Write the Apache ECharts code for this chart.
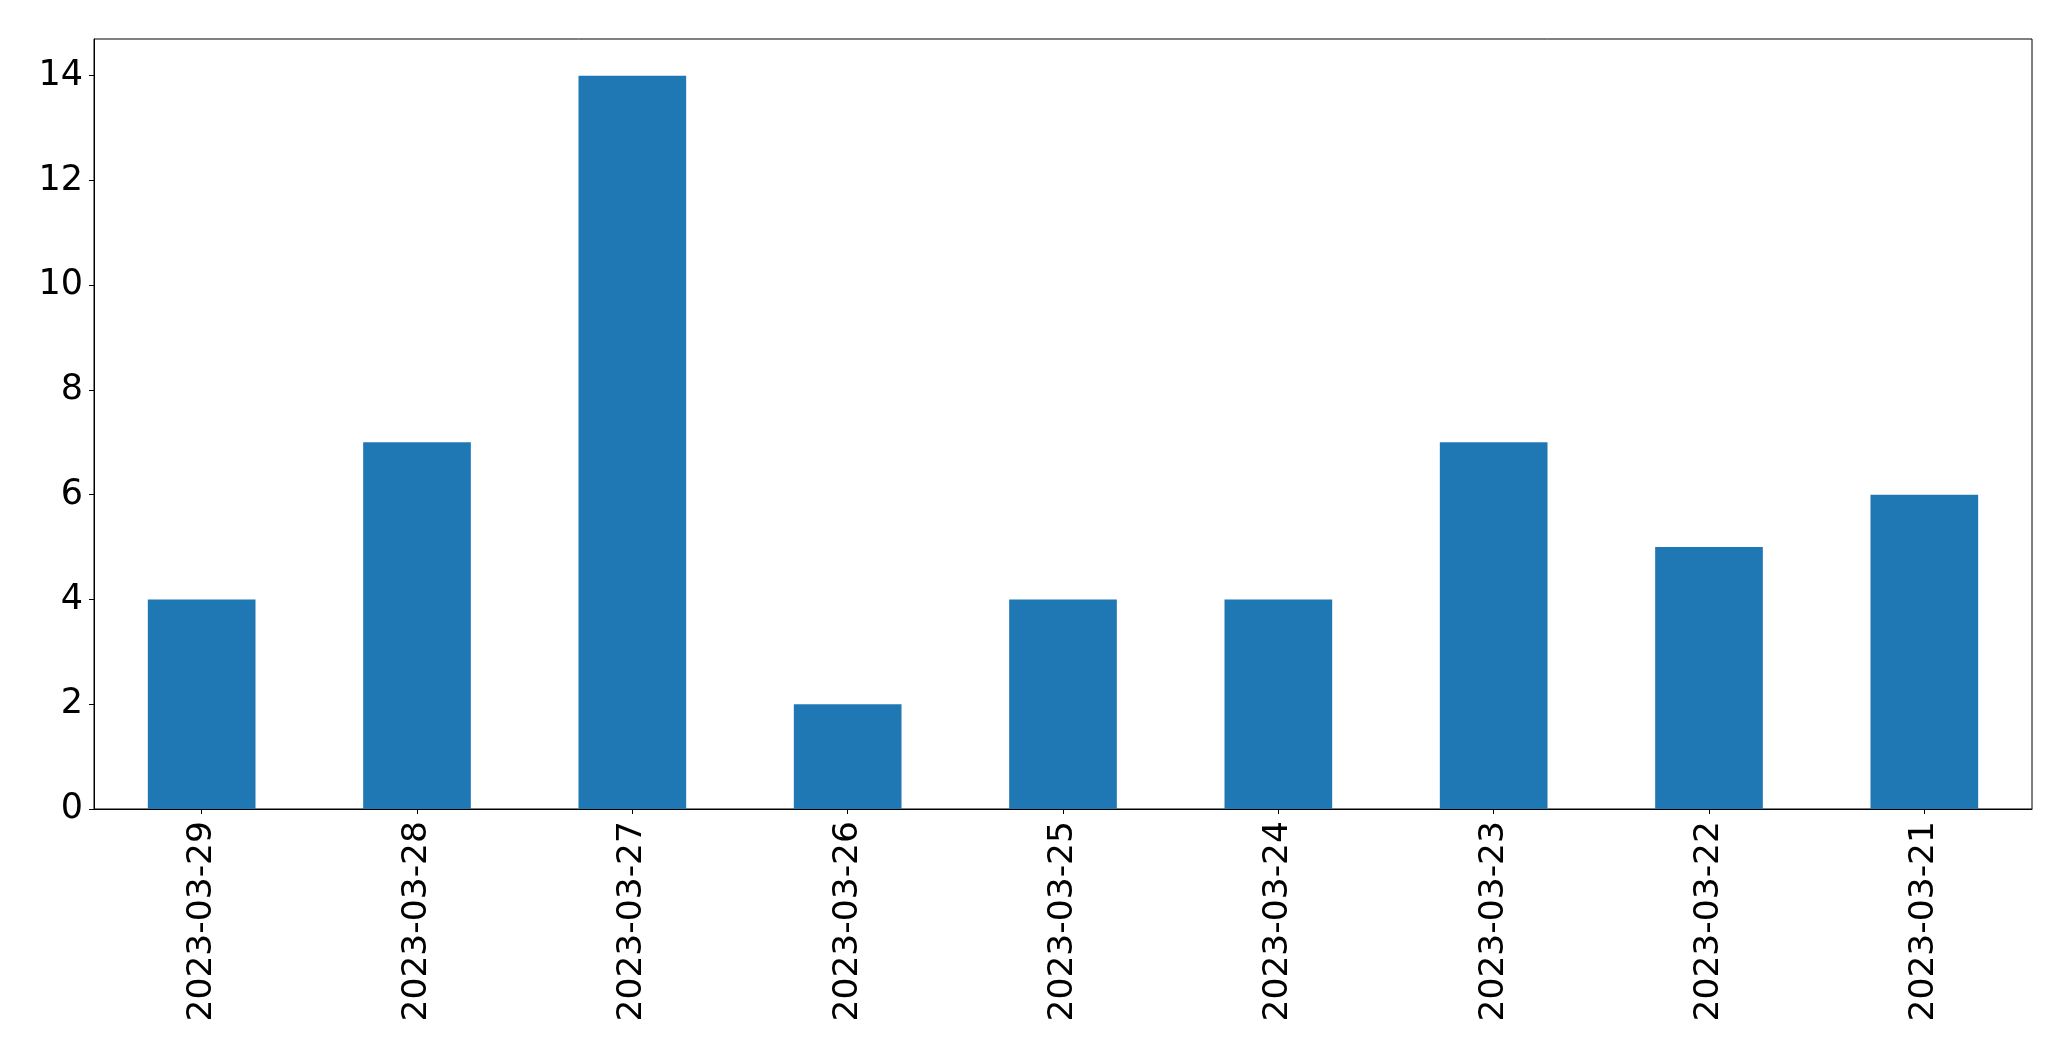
<!DOCTYPE html>
<html>
<head>
<meta charset="utf-8">
<script src="https://cdn.jsdelivr.net/npm/echarts@6/dist/echarts.min.js"></script>
<style>
html,body{margin:0;padding:0;background:#fff;}
#c{width:2071px;height:1061px;}
</style>
</head>
<body>
<div id="c"></div>
<script>
const categories = ['2023-03-29','2023-03-28','2023-03-27','2023-03-26','2023-03-25','2023-03-24','2023-03-23','2023-03-22','2023-03-21'];
const values = [4, 7, 14, 2, 4, 4, 7, 5, 6];
const yTicks = [0, 2, 4, 6, 8, 10, 12, 14];

const chart = echarts.init(document.getElementById('c'), null, {renderer: 'canvas'});
const font = 'DejaVu Sans';
chart.setOption({
  animation: false,
  backgroundColor: '#fff',
  grid: {
    left: 94, top: 39, width: 1938, height: 770,
    show: true, borderColor: '#000', borderWidth: 1, backgroundColor: 'transparent'
  },
  xAxis: {
    type: 'category',
    data: categories,
    boundaryGap: true,
    axisLine: {show: true, lineStyle: {color: '#000', width: 1}},
    axisTick: {show: true, alignWithLabel: true, length: 5, lineStyle: {color: '#000', width: 1}},
    axisLabel: {rotate: 90, color: '#000', fontFamily: font, fontSize: 34.5, margin: 12, interval: 0},
    splitLine: {show: false}
  },
  yAxis: {
    type: 'value',
    min: 0, max: 14.7, interval: 2,
    axisLine: {show: true, lineStyle: {color: '#000', width: 1}},
    axisTick: {show: true, length: 5, lineStyle: {color: '#000', width: 1}, customValues: yTicks},
    axisLabel: {color: '#000', fontFamily: font, fontSize: 35, margin: 11, customValues: yTicks},
    splitLine: {show: false}
  },
  series: [{
    type: 'bar',
    data: values,
    barWidth: '50%',
    itemStyle: {color: '#1f77b4', borderWidth: 0}
  }]
});
</script>
</body>
</html>
